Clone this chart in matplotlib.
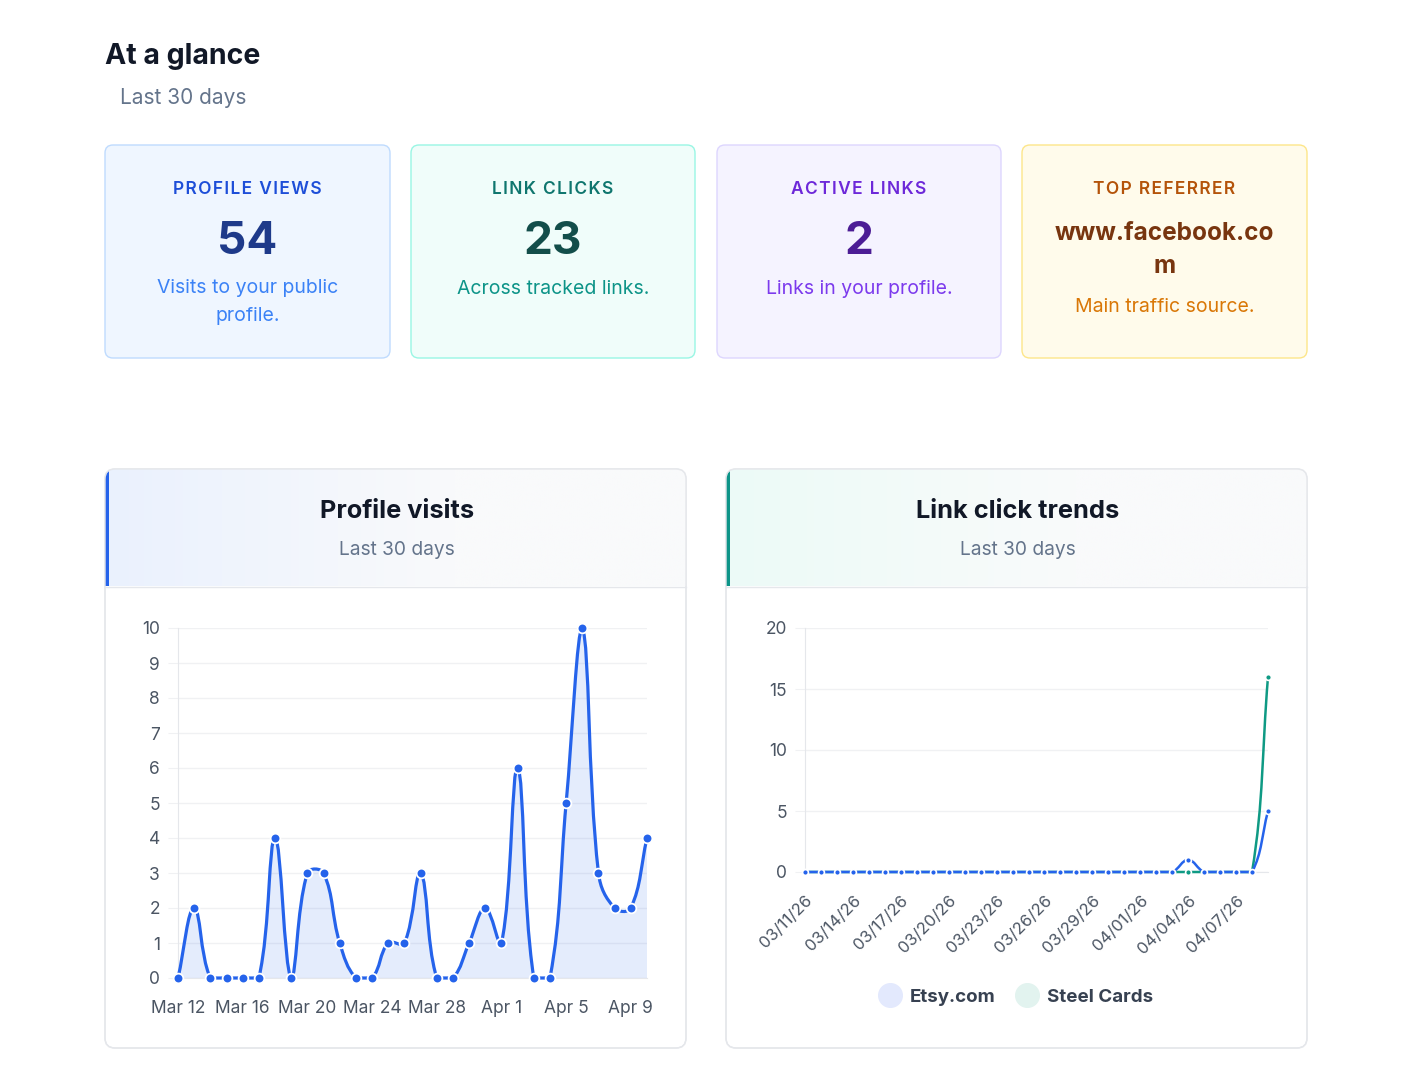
import numpy as np
import matplotlib
matplotlib.use('Agg')
import matplotlib.pyplot as plt
from matplotlib.patches import FancyBboxPatch, PathPatch, Rectangle
from matplotlib.path import Path
from matplotlib.lines import Line2D
from matplotlib.colors import to_rgb

plt.rcParams['font.family'] = ['Inter', 'DejaVu Sans']

# ---- data ----
visit_labels = ['Mar 12', 'Mar 16', 'Mar 20', 'Mar 24', 'Mar 28', 'Apr 1', 'Apr 5', 'Apr 9']
visits = [0, 2, 0, 0, 0, 0, 4, 0, 3, 3, 1, 0, 0, 1, 1,
          3, 0, 0, 1, 2, 1, 6, 0, 0, 5, 10, 3, 2, 2, 4]

click_labels = ['03/11/26', '03/14/26', '03/17/26', '03/20/26', '03/23/26',
                '03/26/26', '03/29/26', '04/01/26', '04/04/26', '04/07/26']
etsy = [0] * 24 + [1, 0, 0, 0, 0, 5]
steel = [0] * 29 + [16]

card_titles = ['PROFILE VIEWS', 'LINK CLICKS', 'ACTIVE LINKS', 'TOP REFERRER']
card_values = ['54', '23', '2', 'www.facebook.co\nm']
card_notes = ['Visits to your public\nprofile.', 'Across tracked links.',
              'Links in your profile.', 'Main traffic source.']

W, H = 1414, 1074
fig = plt.figure(figsize=(W / 100, H / 100), dpi=100, facecolor='white')
bg = fig.add_axes([0, 0, 1, 1])
bg.set_xlim(0, W)
bg.set_ylim(H, 0)
bg.axis('off')


def fig_rect(x0, y0, x1, y1):
    return [x0 / W, 1 - y1 / H, (x1 - x0) / W, (y1 - y0) / H]


def rounded(x0, y0, x1, y1, fc, ec, r=8, lw=1.0, z=1):
    p = FancyBboxPatch((x0, y0), x1 - x0, y1 - y0,
                       boxstyle='round,pad=0,rounding_size=%d' % r,
                       fc=fc, ec=ec, lw=lw, zorder=z)
    bg.add_patch(p)
    return p


def spaced(s):
    # poor man's letter-spacing with hair spaces
    return '\u200a'.join(s)


# ---- header ----
bg.text(105, 56, 'At a glance', fontsize=20.5, fontweight='bold', color='#111827',
        va='center', ha='left')
bg.text(120, 98, 'Last 30 days', fontsize=15, color='#64748b', va='center', ha='left')

# ---- cards ----
card_x = [(105, 390), (411, 695), (717, 1001), (1022, 1307)]
card_bg = ['#eff6ff', '#f0fdfa', '#f5f3ff', '#fffbeb']
card_edge = ['#bfdbfe', '#99f6e4', '#ddd6fe', '#fde68a']
title_c = ['#1d4ed8', '#0f766e', '#6d28d9', '#b45309']
value_c = ['#1e3a8a', '#134e4a', '#4c1d95', '#78350f']
note_c = ['#3b82f6', '#0d9488', '#7c3aed', '#d97706']

for i, (x0, x1) in enumerate(card_x):
    rounded(x0, 145, x1, 358, card_bg[i], card_edge[i])
    cx = (x0 + x1) / 2
    bg.text(cx, 189.5, spaced(card_titles[i]), fontsize=12.5, fontweight='semibold',
            color=title_c[i], ha='center', va='center')
    if i < 3:
        bg.text(cx, 241.5, card_values[i], fontsize=33, fontweight='bold',
                color=value_c[i], ha='center', va='center')
        bg.text(cx, 302 if i == 0 else 289, card_notes[i], fontsize=14,
                color=note_c[i], ha='center', va='center', linespacing=1.7)
    else:
        bg.text(cx, 250, card_values[i], fontsize=17.5, fontweight='bold',
                color=value_c[i], ha='center', va='center', linespacing=1.55)
        bg.text(cx, 307, card_notes[i], fontsize=14, color=note_c[i],
                ha='center', va='center')

# ---- chart panels ----
panels = [(105, 686, '#2563eb', '#eaf1fe', 'Profile visits'),
          (726, 1307, '#0d9488', '#ecfbf7', 'Link click trends')]
for x0, x1, accent, tint, title in panels:
    box = rounded(x0, 469, x1, 1048, 'white', '#e5e7eb', r=10, z=1)
    c0 = np.array(to_rgb(tint))
    c1 = np.array(to_rgb('#f9fafb'))
    t = np.clip(np.linspace(0, 1, 300) / 0.6, 0, 1)
    grad = (c0[None, :] * (1 - t[:, None]) + c1[None, :] * t[:, None])[None, :, :]
    im = bg.imshow(grad, extent=[x0, x1, 586, 469], aspect='auto', zorder=2)
    im.set_clip_path(box)
    bar = Rectangle((x0, 469), 3.5, 117, fc=accent, ec='none', zorder=3)
    bg.add_patch(bar)
    bar.set_clip_path(box)
    bg.plot([x0, x1], [586.5, 586.5], color='#e5e7eb', lw=1, zorder=3)
    box2 = FancyBboxPatch((x0, 469), x1 - x0, 1048 - 469,
                          boxstyle='round,pad=0,rounding_size=10',
                          fc='none', ec='#e5e7eb', lw=1.0, zorder=4)
    bg.add_patch(box2)
    cx = (x0 + x1) / 2 + 1.5
    bg.text(cx, 512, title, fontsize=18.3, fontweight='bold', color='#111827',
            ha='center', va='center', zorder=5)
    bg.text(cx, 550, 'Last 30 days', fontsize=13.8, color='#64748b',
            ha='center', va='center', zorder=5)


def spline(xs, ys, sx, sy, ymin, ymax, tension=0.4):
    xs = np.asarray(xs, float)
    ys = np.asarray(ys, float)
    n = len(xs)
    prev_cp, next_cp = [], []
    for i in range(n):
        a = max(i - 1, 0)
        b = min(i + 1, n - 1)
        d01 = np.hypot((xs[i] - xs[a]) * sx, (ys[i] - ys[a]) * sy)
        d12 = np.hypot((xs[b] - xs[i]) * sx, (ys[b] - ys[i]) * sy)
        tot = d01 + d12
        s01 = d01 / tot if tot else 0
        s12 = d12 / tot if tot else 0
        fa, fb = tension * s01, tension * s12
        dx, dy = xs[b] - xs[a], ys[b] - ys[a]
        prev_cp.append((xs[i] - fa * dx, np.clip(ys[i] - fa * dy, ymin, ymax)))
        next_cp.append((xs[i] + fb * dx, np.clip(ys[i] + fb * dy, ymin, ymax)))
    verts = [(xs[0], ys[0])]
    codes = [Path.MOVETO]
    for i in range(n - 1):
        verts += [next_cp[i], prev_cp[i + 1], (xs[i + 1], ys[i + 1])]
        codes += [Path.CURVE4] * 3
    return verts, codes


def style_axes(ax, ymax, step):
    ax.set_facecolor('none')
    ax.set_ylim(0, ymax)
    ax.set_yticks(np.arange(0, ymax + 1, step))
    ax.grid(axis='y', color='#f0f1f3', lw=1)
    ax.set_axisbelow(True)
    for s in ['top', 'right']:
        ax.spines[s].set_visible(False)
    ax.spines['left'].set_color('#e5e7eb')
    ax.spines['bottom'].set_color('#e5e7eb')
    ax.tick_params(axis='y', length=7, color='#f0f1f3', pad=6,
                   labelsize=12.5, labelcolor='#4b5563')
    ax.tick_params(axis='x', length=0, pad=16, labelsize=12.5, labelcolor='#4b5563')


# ---- profile visits ----
ax1 = fig.add_axes(fig_rect(178, 628, 647, 978))
x1v = np.arange(len(visits))
ax1.set_xlim(0, len(visits) - 1)
style_axes(ax1, 10, 1)
ax1.set_xticks(x1v[::4])
ax1.set_xticklabels(visit_labels)
v, c = spline(x1v, visits, 469 / 29, 35, 0, 10)
fill_v = v + [(x1v[-1], 0), (0, 0), v[0]]
fill_c = c + [Path.LINETO, Path.LINETO, Path.CLOSEPOLY]
ax1.add_patch(PathPatch(Path(fill_v, fill_c), fc='#2563eb', alpha=0.12, ec='none',
                        zorder=2, clip_on=False))
ax1.add_patch(PathPatch(Path(v, c), fc='none', ec='#2563eb', lw=2.3, zorder=3,
                        clip_on=False, capstyle='round'))
ax1.plot(x1v, visits, 'o', ms=7, color='#2563eb', mec='white', mew=1.3,
         zorder=4, clip_on=False)

# ---- link click trends ----
ax2 = fig.add_axes(fig_rect(805, 628, 1268, 872))
x2v = np.arange(len(etsy))
ax2.set_xlim(0, len(etsy) - 1)
style_axes(ax2, 20, 5)
ax2.set_xticks(x2v[::3])
ax2.set_xticklabels(click_labels, rotation=45, ha='right', va='top',
                    rotation_mode='anchor', fontsize=12)
ax2.tick_params(axis='x', pad=15)
for series, col, z in [(steel, '#0f9a84', 3), (etsy, '#2563eb', 5)]:
    v, c = spline(x2v, series, 463 / 29, 12.2, 0, 20)
    ax2.add_patch(PathPatch(Path(v, c), fc='none', ec=col, lw=1.8, zorder=z,
                            clip_on=False))
    ax2.plot(x2v, series, 'o', ms=4.2, color=col, mec='white', mew=1.2,
             zorder=z + 0.5, clip_on=False)

handles = [Line2D([], [], ls='none', marker='o', ms=17, mfc='#e3e9fd', mec='#e3e9fd'),
           Line2D([], [], ls='none', marker='o', ms=17, mfc='#e2f3ef', mec='#e2f3ef')]
leg = fig.legend(handles, ['Etsy.com', 'Steel Cards'], loc='center',
                 bbox_to_anchor=(1016 / W, 1 - 997 / H), ncol=2, frameon=False,
                 handletextpad=0.45, columnspacing=1.1, handlelength=1.2,
                 prop={'size': 13.5, 'weight': 'bold'})
for t in leg.get_texts():
    t.set_color('#374151')

fig.savefig('out.png', dpi=100, facecolor='white')
